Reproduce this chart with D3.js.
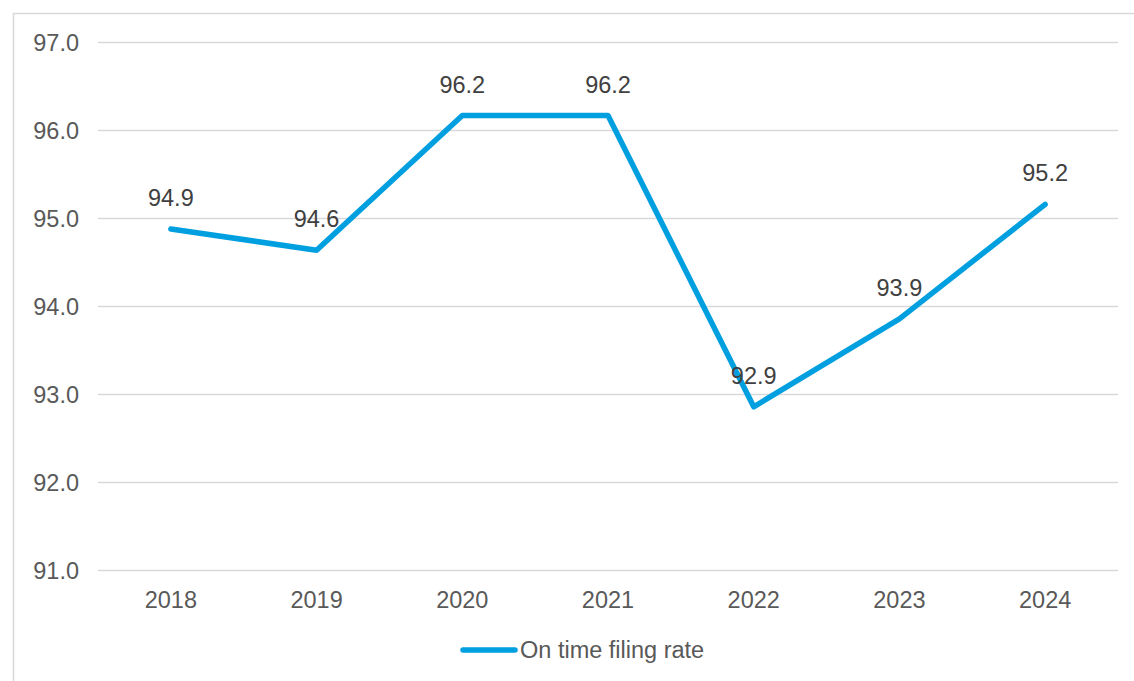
<!DOCTYPE html>
<html>
<head>
<meta charset="utf-8">
<script src="https://cdn.jsdelivr.net/npm/d3@7/dist/d3.min.js"></script>
<style>
  html, body { margin: 0; padding: 0; background: #ffffff; }
  svg { display: block; font-family: "Liberation Sans", Arial, sans-serif; }
</style>
</head>
<body>
<svg id="chart" width="1134" height="681"></svg>
<script>
// On time filing rate by year (%)
const years = ["2018", "2019", "2020", "2021", "2022", "2023", "2024"];
const rates = [94.88, 94.64, 96.17, 96.17, 92.86, 93.86, 95.16];
const yTicks = [91, 92, 93, 94, 95, 96, 97];
const seriesName = "On time filing rate";

const W = 1134, H = 681;
const plot = { left: 98, right: 1118, top: 42.5, bottom: 570.5 };
const textColor = "#595959";
const gridColor = "#d9d9d9";
const lineColor = "#009fdf";
const fontSize = 23.5;

const svg = d3.select("#chart");

// chart frame (only top and left edges fall inside the view)
svg.append("rect")
  .attr("x", 13.5).attr("y", 13.5)
  .attr("width", W + 20).attr("height", H + 20)
  .attr("fill", "none")
  .attr("stroke", gridColor)
  .attr("stroke-width", 1.5);

const x = d3.scaleBand().domain(years).range([plot.left, plot.right]);
const y = d3.scaleLinear().domain([91, 97]).range([plot.bottom, plot.top]);

// horizontal gridlines
svg.append("g")
  .selectAll("line")
  .data(yTicks)
  .join("line")
  .attr("x1", plot.left).attr("x2", plot.right)
  .attr("y1", d => y(d)).attr("y2", d => y(d))
  .attr("stroke", gridColor)
  .attr("stroke-width", 1.5);

// y axis labels
svg.append("g")
  .selectAll("text")
  .data(yTicks)
  .join("text")
  .attr("x", 79)
  .attr("y", d => y(d))
  .attr("dy", "0.35em")
  .attr("text-anchor", "end")
  .attr("fill", textColor)
  .attr("font-size", fontSize)
  .text(d => d3.format(".1f")(d));

// x axis labels
svg.append("g")
  .selectAll("text")
  .data(years)
  .join("text")
  .attr("x", d => x(d) + x.bandwidth() / 2)
  .attr("y", 608)
  .attr("text-anchor", "middle")
  .attr("fill", textColor)
  .attr("font-size", fontSize)
  .text(d => d);

const pts = years.map((yr, i) => ({ year: yr, value: rates[i] }));

const line = d3.line()
  .x(d => x(d.year) + x.bandwidth() / 2)
  .y(d => y(d.value));

svg.append("path")
  .datum(pts)
  .attr("d", line)
  .attr("fill", "none")
  .attr("stroke", lineColor)
  .attr("stroke-width", 5.5)
  .attr("stroke-linejoin", "round")
  .attr("stroke-linecap", "round");

// value labels above each point
svg.append("g")
  .selectAll("text")
  .data(pts)
  .join("text")
  .attr("x", d => x(d.year) + x.bandwidth() / 2)
  .attr("y", d => y(d.value) - 23)
  .attr("text-anchor", "middle")
  .attr("fill", "#404040")
  .attr("font-size", fontSize)
  .text(d => d3.format(".1f")(d.value));

// legend
const legend = svg.append("g");
legend.append("line")
  .attr("x1", 463).attr("x2", 515)
  .attr("y1", 650).attr("y2", 650)
  .attr("stroke", lineColor)
  .attr("stroke-width", 5.5)
  .attr("stroke-linecap", "round");
legend.append("text")
  .attr("x", 520)
  .attr("y", 658)
  .attr("fill", textColor)
  .attr("font-size", fontSize)
  .text(seriesName);
</script>
</body>
</html>
